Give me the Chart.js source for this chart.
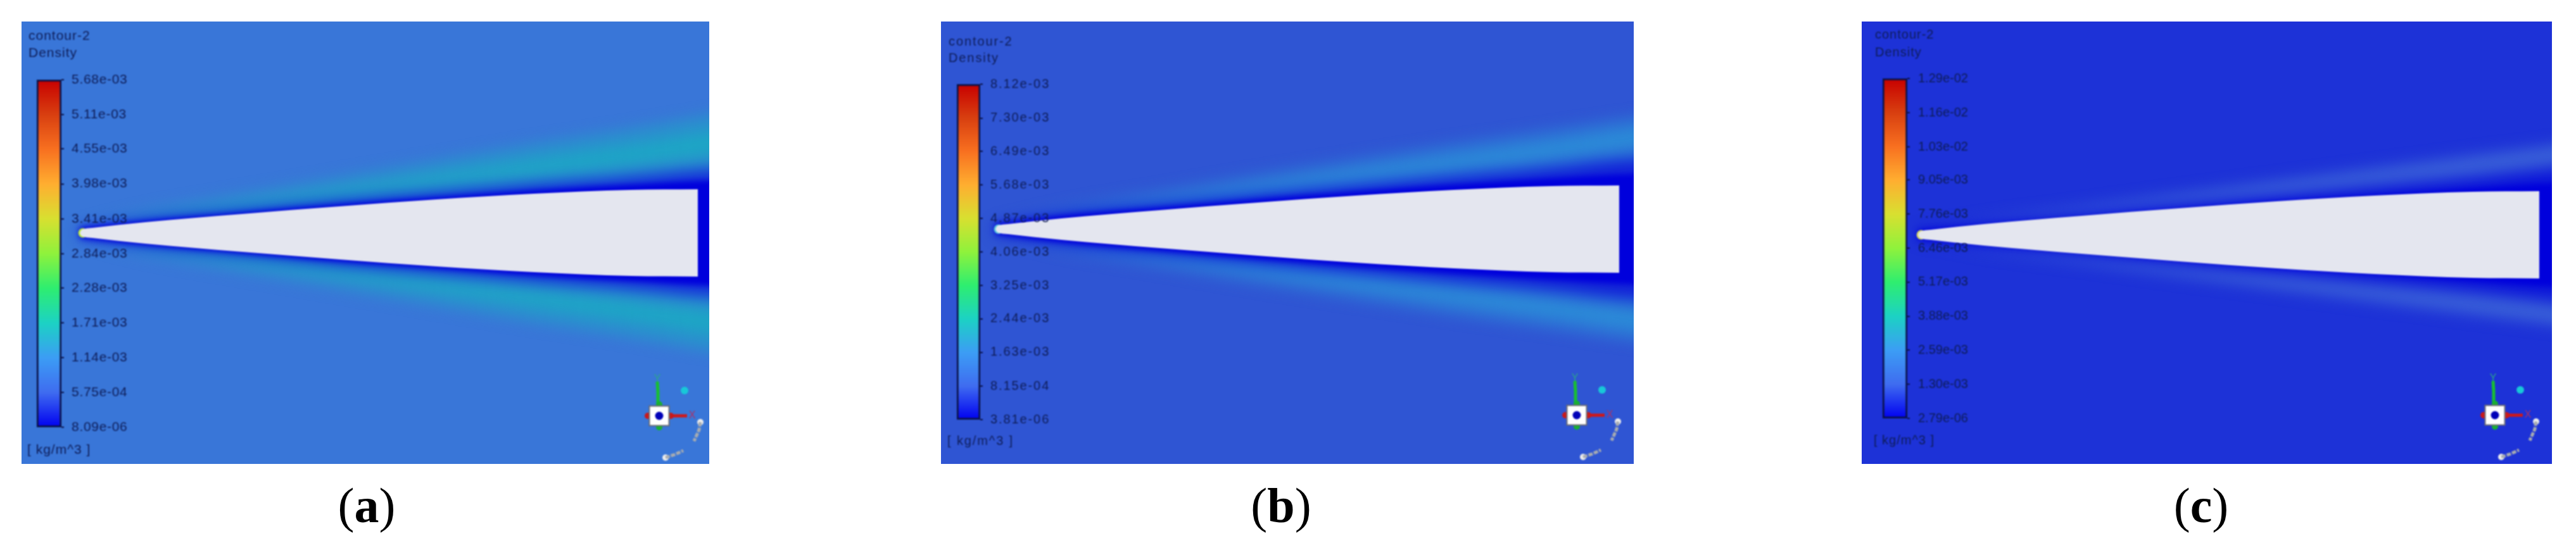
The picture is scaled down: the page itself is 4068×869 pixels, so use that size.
<!DOCTYPE html>
<html><head><meta charset="utf-8">
<script src="https://cdn.jsdelivr.net/npm/chart.js@4"></script>
<style>
html,body{margin:0;padding:0;background:#fff;width:4068px;height:869px;overflow:hidden}
.panel{position:absolute;overflow:hidden}
.cap{position:absolute;font-family:"Liberation Serif",serif;font-size:78px;line-height:80px;color:#000;transform:translateX(-50%);top:759px;white-space:nowrap}
</style></head><body>
<script>
// ---------- values ----------
const stations   = [0,104,258,412,566,720,874,980,1040];
const wingX      = [0,2,8,20,104,258,412,566,720,874,980];
const wingHalf   = [0,4,6.5,8,17,30,42,53,62,68,69];

const outerA   = [14,38,64,90,116,142,166,184,194];
const coreOutA = [12,30,52,74,96,118,140,156,164];
const coreInA  = [11,21,38,56,73,90,108,122,130];
const innerA   = [10,16,28,42,56,68,84,96,102];
const darkA    = [8,19,32,45,56,67,76,82,84];
const softA    = [9,23,37,52,65,78,90,100,104];

const outerB   = [12,36,62,88,112,136,158,174,182];
const coreOutB = [11,29,51,73,95,116,137,152,160];
const coreInB  = [10,21,38,57,77,96,115,130,138];
const innerB   = [8,16,28,42,57,72,90,104,110];
const darkB    = [8,21,34,47,59,70,80,86,88];
const softB    = [9,26,41,56,70,84,98,110,114];

const outerC   = [9,27,47,68,88,108,128,141,149];
const coreOutC = [8,23,42,61,80,98,117,130,138];
const coreInC  = [8,19,35,52,69,87,104,117,125];
const innerC   = [7,14,28,44,60,76,92,105,113];
const darkC    = [7,15,27,40,52,62,73,80,82];
const softC    = [8,18,32,47,60,72,85,96,100];

const ticksA = ['8.09e-06','5.75e-04','1.14e-03','1.71e-03','2.28e-03','2.84e-03','3.41e-03','3.98e-03','4.55e-03','5.11e-03','5.68e-03'];
const ticksB = ['3.81e-06','8.15e-04','1.63e-03','2.44e-03','3.25e-03','4.06e-03','4.87e-03','5.68e-03','6.49e-03','7.30e-03','8.12e-03'];
const ticksC = ['2.79e-06','1.30e-03','2.59e-03','3.88e-03','5.17e-03','6.46e-03','7.76e-03','9.05e-03','1.03e-02','1.16e-02','1.29e-02'];

const barStops  = [0,0.1,0.2,0.3,0.4,0.5,0.6,0.7,0.8,0.9,1];
const barColors = ['#0000f0','#3f6cf0','#3c9df5','#1cd2c4','#2eee70','#8ff23c','#d8e030','#ffae30','#f87020','#d83f10','#c80000'];

const plumeAlpha = [0.1,0.42,0.62,0.75,0.85,0.92,0.96,1,1];

const titleLines = ['contour-2','Density'];
const unitLabel  = '[ kg/m^3 ]';
const captions   = ['a','b','c'];

// axis triad (offsets from the triad box)
const triadGreen = [[-2,16],[-2,38],[-3,54]];
const triadRed   = [[17,0],[44,0]];
const triadArc1  = [[65,-10],[63,-22],[55,-40]];
const triadArc2  = [[10,-66],[25,-61],[38,-55]];
const triadBall  = [[40,40]];

// ---------- layout of the three panels ----------
const panels = [
 {rect:[34,34,1120,733],  tip:[126,368],  chord:976, bg:'#3976d8', plume:'26,170,195', halo:'#b8e83a',
  bar:[58,126,97,675],    labelX:113,  font:21, spacing:.7, titleX:45, titleY:[57,84], unitX:43, unitY:711,
  ticks:ticksA, outer:outerA, coreOut:coreOutA, coreIn:coreInA, inner:innerA, dark:darkA, soft:softA, triad:[1041,657], cap:579},
 {rect:[1486,34,2580,733],tip:[1572,362], chord:985, bg:'#2f55d3', plume:'42,148,216', halo:'#58c8d8',
  bar:[1511,133,1548,663],labelX:1564, font:20, spacing:1.9, titleX:1498, titleY:[66,92], unitX:1496, unitY:697,
  ticks:ticksB, outer:outerB, coreOut:coreOutB, coreIn:coreInB, inner:innerB, dark:darkB, soft:softB, triad:[2490,656], cap:2023},
 {rect:[2940,34,4030,733],tip:[3029,371], chord:981, bg:'#1d32d7', plume:'66,110,216', halo:'#d8d860',
  bar:[2973,124,3012,661],labelX:3029, font:20, spacing:0, titleX:2961, titleY:[55,83], unitX:2959, unitY:696,
  ticks:ticksC, outer:outerC, coreOut:coreOutC, coreIn:coreInC, inner:innerC, dark:darkC, soft:softC, triad:[3940,656], cap:3476}
];
const PAD = 40;
const deepBlue = 'rgb(0,0,220)';
const textColor = '#0e1c56';
const neg = a => a.map(v => -v);
const pts = (xs,ys) => xs.map((x,i)=>({x,y:ys[i]}));
const lineBase = {pointRadius:0,borderWidth:0,showLine:true,cubicInterpolationMode:'monotone',clip:false};

function band(xs,top,bot,color){
  return [
    {...lineBase,data:pts(xs,top),fill:'+1',backgroundColor:color},
    {...lineBase,data:pts(xs,bot),fill:false}
  ];
}
function addCanvas(host,l,t,w,h,blur){
  const wrap=document.createElement('div');
  wrap.style.cssText=`position:absolute;left:${l}px;top:${t}px;width:${w}px;height:${h}px;`+(blur?`filter:blur(${blur}px);`:'');
  const c=document.createElement('canvas');
  c.width=w;c.height=h;
  c.style.cssText='display:block;width:'+w+'px;height:'+h+'px';
  wrap.appendChild(c);host.appendChild(wrap);
  return c;
}
function fieldChart(canvas,p,datasets){
  const [L,T,R,B]=p.rect, k=p.chord/980;
  return new Chart(canvas,{type:'line',data:{datasets},options:{
    responsive:false,animation:false,events:[],
    layout:{padding:0,autoPadding:false},
    plugins:{legend:{display:false},title:{display:false},tooltip:{enabled:false},filler:{propagate:false}},
    scales:{
      x:{type:'linear',display:false,min:(L-PAD-p.tip[0])/k,max:(R+PAD-p.tip[0])/k},
      y:{type:'linear',display:false,min:p.tip[1]-(B+PAD),max:p.tip[1]-(T-PAD)}
    }}});
}
function plumeGradient(p,stopsAlpha,scale){
  return ctx=>{
    const ch=ctx.chart,sx=ch.scales.x;
    if(!sx) return 'transparent';
    const x0=sx.getPixelForValue(stations[0]),x1=sx.getPixelForValue(stations[stations.length-1]);
    if(!isFinite(x0)||!isFinite(x1)) return 'transparent';
    const g=ch.ctx.createLinearGradient(x0,0,x1,0);
    stations.forEach((s,i)=>g.addColorStop(s/stations[stations.length-1],`rgba(${p.plume},${stopsAlpha[i]*scale})`));
    return g;
  };
}

panels.forEach((p,pi)=>{
  const [L,T,R,B]=p.rect,W=R-L,H=B-T;
  const host=document.createElement('div');
  host.className='panel';
  host.style.cssText=`left:${L}px;top:${T}px;width:${W}px;height:${H}px;background:${p.bg}`;
  document.body.appendChild(host);

  // plume layer (widest blur)
  const plumeC=addCanvas(host,-PAD,-PAD,W+2*PAD,H+2*PAD,11);
  fieldChart(plumeC,p,[
    ...band(stations,p.soft,neg(p.soft),'rgba(0,0,220,0.6)'),
    ...band(stations,p.coreOut,p.coreIn,plumeGradient(p,plumeAlpha,0.85)),
    ...band(stations,neg(p.coreIn),neg(p.coreOut),plumeGradient(p,plumeAlpha,0.85)),
    ...band(stations,p.outer,p.inner,plumeGradient(p,plumeAlpha,0.5)),
    ...band(stations,neg(p.inner),neg(p.outer),plumeGradient(p,plumeAlpha,0.5))
  ]);

  // deep blue boundary layer
  const darkC=addCanvas(host,-PAD,-PAD,W+2*PAD,H+2*PAD,4);
  fieldChart(darkC,p,[...band(stations,p.dark,neg(p.dark),deepBlue)]);

  // wing body and leading-edge halo
  const wingC=addCanvas(host,-PAD,-PAD,W+2*PAD,H+2*PAD,0.9);
  fieldChart(wingC,p,[
    ...band(wingX,wingHalf,neg(wingHalf),'#e4e6ef'),
    {...lineBase,showLine:false,data:[{x:5,y:0}],pointRadius:7.5,pointBackgroundColor:p.halo,pointBorderWidth:0}
  ]);

  // colour bar with its axis
  const cw=340;
  const barC=addCanvas(host,0,0,cw,H,0.8);
  const vals=p.ticks.map(Number);
  const [bl,bt,br,bb]=p.bar;
  new Chart(barC,{type:'bar',
    data:{labels:['Density'],datasets:[{
      data:[[vals[0],vals[vals.length-1]]],
      barPercentage:1,categoryPercentage:1,borderSkipped:false,borderWidth:3,borderColor:'#0a1248',
      backgroundColor:ctx=>{
        const ch=ctx.chart,sy=ch.scales.y; if(!sy) return '#888';
        const y0=sy.getPixelForValue(vals[0]),y1=sy.getPixelForValue(vals[vals.length-1]);
        if(!isFinite(y0)||!isFinite(y1)) return '#888';
        const g=ch.ctx.createLinearGradient(0,y0,0,y1);
        barStops.forEach((s,i)=>g.addColorStop(s,barColors[i]));
        return g;
      }}]},
    options:{responsive:false,animation:false,events:[],
      layout:{padding:{left:bl-L,top:bt-T,bottom:B-bb,right:0},autoPadding:false},
      plugins:{legend:{display:false},title:{display:false},tooltip:{enabled:false}},
      scales:{
        x:{display:false,offset:true,grid:{display:false}},
        y:{position:'right',min:vals[0],max:vals[vals.length-1],
           afterBuildTicks:s=>{s.ticks=vals.map(value=>({value}));},
           afterFit:s=>{s.width=cw-(br-L);},
           border:{display:false},
           grid:{drawOnChartArea:false,drawTicks:true,tickLength:4,color:'#0a1248',lineWidth:2},
           ticks:{autoSkip:false,padding:p.labelX-br-4,color:textColor,
                  font:{family:'"Liberation Sans",Arial,sans-serif',size:p.font,weight:'500'},
                  callback:(v,i)=>p.ticks[i]}}
      }},
    plugins:[{id:'panelText',
      beforeDraw(ch){ch.ctx.letterSpacing=p.spacing+'px';},
      afterDraw(ch){
        const c=ch.ctx;c.save();
        c.letterSpacing=Math.max(p.spacing,1)+'px';
        c.fillStyle=textColor;c.textBaseline='middle';c.textAlign='left';
        c.font=`${p.font}px "Liberation Sans",Arial,sans-serif`;
        titleLines.forEach((t,i)=>c.fillText(t,p.titleX-L,p.titleY[i]-T));
        c.fillText(unitLabel,p.unitX-L,p.unitY-T);
        c.restore();
      }}]
  });

  // axis triad
  const ts=170;
  const triC=addCanvas(host,p.triad[0]-L-ts/2,p.triad[1]-T-ts/2,ts,ts,1.1);
  const xy=a=>a.map(([x,y])=>({x,y}));
  new Chart(triC,{type:'line',data:{datasets:[
      {...lineBase,tension:0,showLine:false,data:[{x:0,y:0}],pointRadius:6.5,pointStyle:'circle',pointBackgroundColor:'#0000b8'},
      {...lineBase,tension:0,showLine:false,data:[{x:0,y:0}],pointRadius:22,pointStyle:'rect',pointBackgroundColor:'#ffffff',pointBorderColor:'#6a6a70',pointBorderWidth:2},
      {...lineBase,tension:0,showLine:false,data:[{x:0,y:18},{x:0,y:-18}],pointRadius:5,pointBackgroundColor:'#18b030'},
      {...lineBase,tension:0,showLine:false,data:[{x:18,y:0},{x:-18,y:0}],pointRadius:5,pointBackgroundColor:'#cc1818'},
      {...lineBase,cubicInterpolationMode:'default',data:xy(triadGreen),borderColor:'#18c030',borderWidth:5},
      {...lineBase,cubicInterpolationMode:'default',data:xy(triadRed),borderColor:'#d01818',borderWidth:5},
      {...lineBase,cubicInterpolationMode:'default',data:xy(triadArc1),borderColor:'#a8acb0',borderWidth:5,borderDash:[7,2]},
      {...lineBase,cubicInterpolationMode:'default',data:xy(triadArc2),borderColor:'#a8acb0',borderWidth:5,borderDash:[7,2]},
      {...lineBase,showLine:false,data:[xy(triadArc1)[0],xy(triadArc2)[0]],pointRadius:5,pointBackgroundColor:'#eeeeee'},
      {...lineBase,showLine:false,data:xy(triadBall),pointRadius:6,pointBackgroundColor:'#18c8d8'}
    ]},
    options:{responsive:false,animation:false,events:[],layout:{padding:0,autoPadding:false},
      plugins:{legend:{display:false},title:{display:false},tooltip:{enabled:false}},
      scales:{x:{type:'linear',display:false,min:-85,max:85},y:{type:'linear',display:false,min:-85,max:85}}},
    plugins:[{id:'triadLetters',afterDatasetsDraw(ch){
      const c=ch.ctx,sx=ch.scales.x,sy=ch.scales.y;c.save();
      c.font='16px "Liberation Sans",sans-serif';c.textAlign='center';c.textBaseline='middle';
      c.fillStyle='#2aa888';c.fillText('Y',sx.getPixelForValue(-3),sy.getPixelForValue(58));
      c.fillStyle='#b03060';c.fillText('X',sx.getPixelForValue(52),sy.getPixelForValue(0));
      c.restore();}}]
  });

  // sub-figure caption
  const cap=document.createElement('div');
  cap.className='cap';cap.style.left=p.cap+'px';
  cap.innerHTML='(<b>'+captions[pi]+'</b>)';
  document.body.appendChild(cap);
});
</script>
</body></html>
